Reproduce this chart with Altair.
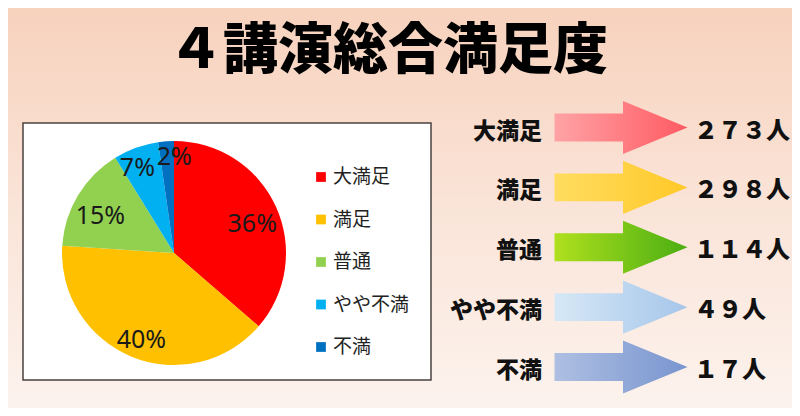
"""
4講演総合満足度: pie chart with legend plus arrow summary of counts.
"""

import pandas as pd
import altair as alt

# --- data ---
categories = ["大満足", "満足", "普通", "やや不満", "不満"]
counts = [273, 298, 114, 49, 17]
count_labels = ["２７３人", "２９８人", "１１４人", "４９人", "１７人"]
pie_colors = ["#FF0000", "#FFC000", "#92D050", "#00B0F0", "#0070C0"]
arrow_stops = [
    ("#ffa3a6", "#ff5a62"),
    ("#ffdc60", "#ffc928"),
    ("#b0e01e", "#4aae12"),
    ("#d6e8f6", "#a6c6ea"),
    ("#aebfe2", "#7895cf"),
]

total = sum(counts)
df = pd.DataFrame({
    "cat": categories,
    "count": counts,
    "idx": list(range(len(categories))),
    "label": count_labels,
})
df["pct"] = (df["count"] / total * 100).round().astype(int).astype(str) + "%"

W, H = 784, 400
FONT = "Noto Sans CJK JP"

# background gradient
bg = alt.Chart(pd.DataFrame({"a": [0]})).mark_rect(
    fill=alt.LinearGradient(
        gradient="linear", x1=0, x2=0, y1=0, y2=1,
        stops=[alt.GradientStop(color="#f7d1bc", offset=0),
               alt.GradientStop(color="#fae4d8", offset=0.5),
               alt.GradientStop(color="#fcf3ee", offset=1)]
    )
).encode(x=alt.value(-8), x2=alt.value(W + 8), y=alt.value(-8), y2=alt.value(H + 8))

title = alt.Chart(pd.DataFrame({"t": ["４講演総合満足度"]})).mark_text(
    font=FONT, fontSize=55, fontWeight=900, color="#000000",
    align="center", baseline="middle"
).encode(text="t:N", x=alt.value(380), y=alt.value(43))

# white box behind the pie
box = alt.Chart(pd.DataFrame({"a": [0]})).mark_rect(
    fill="white", stroke="#4a4240", strokeWidth=1.5
).encode(x=alt.value(15), x2=alt.value(423), y=alt.value(115), y2=alt.value(372))

pie_theta = alt.Theta("count:Q", stack=True)
pie_order = alt.Order("idx:Q")
pie_color = alt.Color("cat:N", scale=alt.Scale(domain=categories, range=pie_colors), legend=None)

pie = alt.Chart(df).mark_arc(radius=112).encode(
    theta=pie_theta, order=pie_order, color=pie_color,
    x=alt.value(166), y=alt.value(245)
)

text_style = dict(font="Noto Sans", fontSize=25, color="#1a1a1a",
                  align="center", baseline="middle")


def pct_labels(test, **kw):
    # one layer of slice labels; slices not matching `test` get empty text
    return alt.Chart(df).mark_text(**text_style, **kw).encode(
        theta=pie_theta, order=pie_order,
        text=alt.condition(test, "pct:N", alt.value("")),
        x=alt.value(166), y=alt.value(245)
    )


pie_text = pct_labels("datum.idx < 3", radius=86, dy=7)
pie_text_7 = pct_labels("datum.idx == 3", radius=90, dx=-6)
pie_text_2 = pct_labels("datum.idx == 4", radius=96, dx=7)

# hand-drawn legend
leg_y = alt.Y("cat:N", scale=alt.Scale(domain=categories, range=[169, 339], padding=0), axis=None)
leg_sym = alt.Chart(df).mark_square(size=95, opacity=1).encode(
    y=leg_y, x=alt.value(313), color=pie_color
)
leg_txt = alt.Chart(df).mark_text(
    font=FONT, fontSize=19, color="#222222", align="left", baseline="middle"
).encode(y=leg_y, x=alt.value(325), text="cat:N")

# right hand arrows
row_y = alt.Y("cat:N", scale=alt.Scale(domain=categories, range=[119.5, 359], padding=0), axis=None)
arrow_path = "M-1,-0.21 L0.03,-0.21 L0.03,-0.40 L1,0 L0.03,0.40 L0.03,0.21 L-1,0.21 Z"

arrows = []
for i, (c0, c1) in enumerate(arrow_stops):
    grad = alt.LinearGradient(
        gradient="linear", x1=0, x2=1, y1=0, y2=0,
        stops=[alt.GradientStop(color=c0, offset=0), alt.GradientStop(color=c1, offset=1)]
    )
    arrows.append(
        alt.Chart(df[df["idx"] == i]).mark_point(
            shape=arrow_path, size=133 * 133, filled=True, fill=grad,
            strokeWidth=0, opacity=1
        ).encode(y=row_y, x=alt.value(613))
    )

row_cat = alt.Chart(df).mark_text(
    font=FONT, fontSize=23, fontWeight=900, color="#111111",
    align="right", baseline="middle", dy=4
).encode(y=row_y, x=alt.value(534), text="cat:N")

row_num = alt.Chart(df).mark_text(
    font=FONT, fontSize=24, fontWeight=900, color="#111111",
    align="left", baseline="middle", dy=4
).encode(y=row_y, x=alt.value(686), text="label:N")

chart = alt.layer(
    bg, title, box, pie, pie_text, pie_text_7, pie_text_2, leg_sym, leg_txt,
    *arrows, row_cat, row_num
).resolve_scale(
    y="independent", x="independent", color="independent"
).properties(
    width=W, height=H, padding=0, autosize=alt.AutoSizeParams(type="none")
).configure_view(stroke=None).configure(background="#f9e2d4")

chart.save("out.html", embed_options={"renderer": "svg", "actions": False})
